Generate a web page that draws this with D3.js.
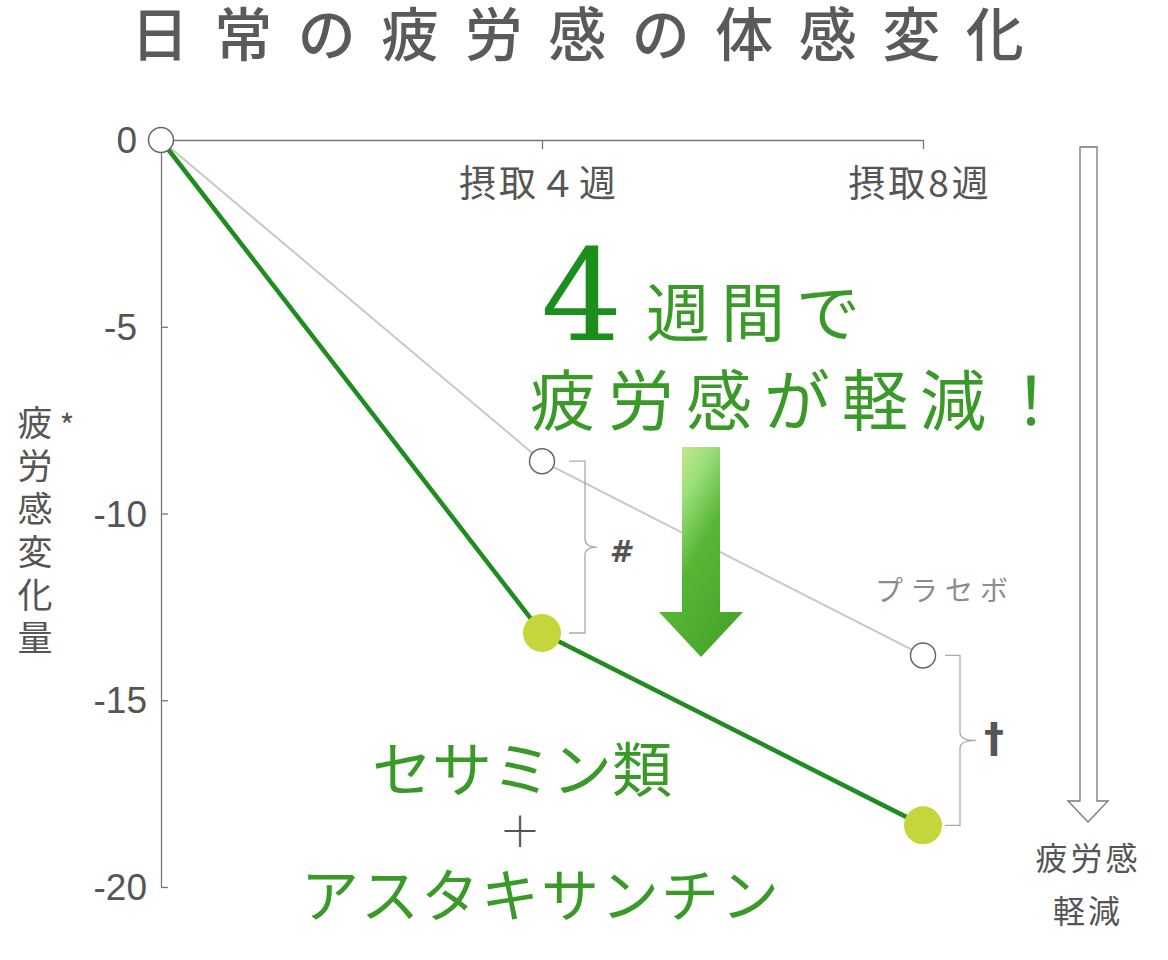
<!DOCTYPE html>
<html>
<head>
<meta charset="utf-8">
<script src="https://cdn.jsdelivr.net/npm/d3@7"></script>
<style>
  body { margin: 0; background: #fff; }
  svg { display: block; }
  text { font-family: "Noto Sans CJK JP", "Noto Sans", sans-serif; }
</style>
</head>
<body>
<svg id="grafica" width="1168" height="960"></svg>
<script>
// datos del gráfico
weeks = [0, 4, 8]
placebo = [0, -8.6, -13.8]
sesamin = [0, -13.2, -18.35]
yTicks = [0, -5, -10, -15, -20]
xLabels = [{ w: 4, t: '摂取４週' }, { w: 8, t: '摂取8週' }]
titulo = '日常の疲労感の体感変化'
yLabel = '疲労感変化量'

svg = d3.select('#grafica')

x = d3.scaleLinear().domain([0, 8]).range([161, 923])
y = d3.scaleLinear().domain([0, -20]).range([140, 887])

// titulo
svg.append('text')
    .attr('x', 590)
    .attr('y', 56)
    .attr('text-anchor', 'middle')
    .style('font-size', '58px')
    .style('font-weight', 500)
    .style('letter-spacing', '25.5px')
    .style('fill', '#5a5a5a')
    .text(titulo)

// eje superior
gx = svg.append('g')
    .attr('transform', 'translate(0,140)')
    .call(d3.axisBottom(x).tickValues([4, 8]).tickSize(9).tickSizeOuter(0).tickFormat(''))
gx.selectAll('path, line').attr('stroke', '#777').attr('stroke-width', 1.3)

svg.selectAll('text.xlab')
    .data(xLabels)
    .enter()
    .append('text')
    .attr('class', 'xlab')
    .attr('x', function (d) { return x(d.w) - 3 })
    .attr('y', 197)
    .attr('text-anchor', 'middle')
    .style('font-size', '37px')
    .style('letter-spacing', '3px')
    .style('fill', '#555')
    .text(function (d) { return d.t })

// eje y
gy = svg.append('g')
    .attr('transform', 'translate(161,0)')
    .call(d3.axisRight(y).tickValues(yTicks).tickSize(7).tickSizeOuter(0).tickFormat(''))
gy.selectAll('path, line').attr('stroke', '#777').attr('stroke-width', 1.3)

svg.selectAll('text.ylab')
    .data(yTicks)
    .enter()
    .append('text')
    .attr('class', 'ylab')
    .attr('x', function (d) { return String(d).length > 2 ? 147 : 137 })
    .attr('y', function (d) { return y(d) + 13 })
    .attr('text-anchor', 'end')
    .style('font-family', '"Liberation Sans", Arial, sans-serif')
    .style('font-size', '37px')
    .style('fill', '#555')
    .text(function (d) { return d })

// etiqueta vertical
svg.append('text')
    .attr('x', 35)
    .attr('y', 405)
    .style('writing-mode', 'vertical-rl')
    .style('font-size', '35px')
    .style('letter-spacing', '8px')
    .style('fill', '#555')
    .text(yLabel)
svg.append('text')
    .attr('x', 67).attr('y', 438)
    .attr('text-anchor', 'middle')
    .style('font-size', '32px')
    .style('fill', '#555')
    .text('*')

// lineas
linea = d3.line()
    .x(function (d, i) { return x(weeks[i]) })
    .y(function (d) { return y(d) })

svg.append('path')
    .attr('d', linea(placebo))
    .attr('fill', 'none')
    .attr('stroke', '#c8c8c8')
    .attr('stroke-width', 2)

svg.append('path')
    .attr('d', linea(sesamin))
    .attr('fill', 'none')
    .attr('stroke', '#1f8c1f')
    .attr('stroke-width', 4.5)

svg.selectAll('circle.pl')
    .data(placebo)
    .enter()
    .append('circle')
    .attr('class', 'pl')
    .attr('cx', function (d, i) { return x(weeks[i]) })
    .attr('cy', function (d) { return y(d) })
    .attr('r', 12.5)
    .attr('fill', '#fff')
    .attr('stroke', '#666')
    .attr('stroke-width', 1.5)

svg.selectAll('circle.gr')
    .data(sesamin.slice(1))
    .enter()
    .append('circle')
    .attr('class', 'gr')
    .attr('cx', function (d, i) { return x(weeks[i + 1]) })
    .attr('cy', function (d) { return y(d) })
    .attr('r', 19)
    .attr('fill', '#c4d63c')

// llaves de significancia
function llave(x0, top, bottom, w, tip) {
    mid = (top + bottom) / 2
    p = d3.path()
    p.moveTo(x0, top)
    p.lineTo(x0 + w, top)
    p.lineTo(x0 + w, mid - 8)
    p.quadraticCurveTo(x0 + w, mid, x0 + w + tip, mid)
    p.quadraticCurveTo(x0 + w, mid, x0 + w, mid + 8)
    p.lineTo(x0 + w, bottom)
    p.lineTo(x0, bottom)
    return p.toString()
}
svg.append('path')
    .attr('d', llave(x(4) + 27, y(placebo[1]), y(sesamin[1]), 16, 12))
    .attr('fill', 'none').attr('stroke', '#aaa').attr('stroke-width', 1.3)
svg.append('path')
    .attr('d', llave(x(8) + 22, y(placebo[2]), y(sesamin[2]), 15, 16))
    .attr('fill', 'none').attr('stroke', '#aaa').attr('stroke-width', 1.3)

svg.append('text')
    .attr('x', 620).attr('y', 562)
    .attr('text-anchor', 'middle')
    .style('font-family', '"DejaVu Sans", sans-serif')
    .style('font-size', '30px')
    .style('font-weight', 'bold')
    .style('font-style', 'italic')
    .style('fill', '#555')
    .text('#')
svg.append('text')
    .attr('x', 994).attr('y', 752)
    .attr('text-anchor', 'middle')
    .style('font-family', '"DejaVu Sans", sans-serif')
    .style('font-size', '40px')
    .style('font-weight', 'bold')
    .style('fill', '#555')
    .text('†')

svg.append('text')
    .attr('x', 875).attr('y', 601)
    .style('font-size', '28px')
    .style('letter-spacing', '7px')
    .style('fill', '#8c8c8c')
    .text('プラセボ')

// flecha verde
defs = svg.append('defs')
grad = defs.append('linearGradient')
    .attr('id', 'gverde')
    .attr('x1', 0).attr('y1', 0).attr('x2', 0.7).attr('y2', 1)
grad.selectAll('stop')
    .data([['0', '#e4e99c'], ['0.3', '#9ce07a'], ['0.55', '#58b636'], ['1', '#46a52a']])
    .enter()
    .append('stop')
    .attr('offset', function (d) { return d[0] })
    .attr('stop-color', function (d) { return d[1] })

ax = 701
svg.append('path')
    .attr('d', 'M' + (ax - 19) + ',447 H' + (ax + 19) + ' V612 H' + (ax + 42) +
        ' L' + ax + ',657 L' + (ax - 42) + ',612 H' + (ax - 19) + ' Z')
    .attr('fill', 'url(#gverde)')

// textos verdes
svg.append('text')
    .attr('x', 541).attr('y', 340)
    .style('font-family', '"DejaVu Serif", serif')
    .style('font-size', '128px')
    .style('fill', '#1c8e1c')
    .text('4')
svg.append('text')
    .attr('x', 646).attr('y', 336)
    .style('font-size', '64px')
    .style('letter-spacing', '11px')
    .style('fill', '#3a9a28')
    .text('週間で')
svg.append('text')
    .attr('x', 530).attr('y', 425)
    .style('font-size', '66px')
    .style('letter-spacing', '12px')
    .style('fill', '#3a9a28')
    .text('疲労感が軽減！')

svg.append('text')
    .attr('x', 522).attr('y', 792)
    .attr('text-anchor', 'middle')
    .style('font-size', '60px')
    .style('fill', '#3a9a28')
    .text('セサミン類')
svg.append('text')
    .attr('x', 520).attr('y', 847)
    .attr('text-anchor', 'middle')
    .style('font-size', '42px')
    .style('font-weight', 300)
    .style('fill', '#555')
    .text('＋')
svg.append('text')
    .attr('x', 541).attr('y', 917)
    .attr('text-anchor', 'middle')
    .style('font-size', '58px')
    .style('letter-spacing', '2px')
    .style('fill', '#3a9a28')
    .text('アスタキサンチン')

// flecha derecha hueca
svg.append('path')
    .attr('d', 'M1080,147 H1097 V801 H1108 L1088,822 L1068,801 H1080 Z')
    .attr('fill', '#fff')
    .attr('stroke', '#777')
    .attr('stroke-width', 1.3)

svg.append('text')
    .attr('x', 1088).attr('y', 870)
    .attr('text-anchor', 'middle')
    .style('font-size', '32px')
    .style('letter-spacing', '3px')
    .style('fill', '#555')
    .text('疲労感')
svg.append('text')
    .attr('x', 1088).attr('y', 923)
    .attr('text-anchor', 'middle')
    .style('font-size', '32px')
    .style('letter-spacing', '3px')
    .style('fill', '#555')
    .text('軽減')
</script>
</body>
</html>
